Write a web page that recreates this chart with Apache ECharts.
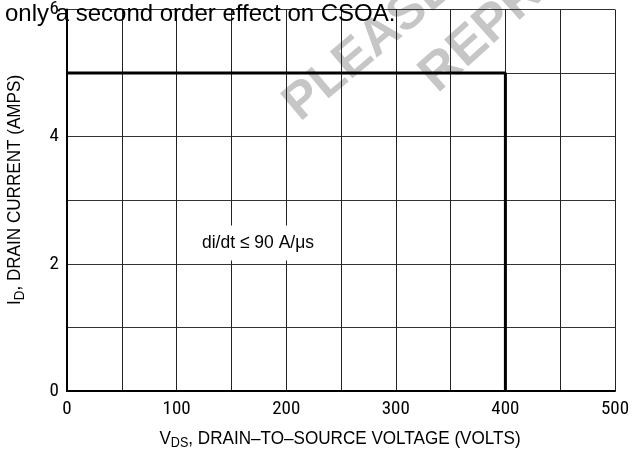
<!DOCTYPE html>
<html>
<head>
<meta charset="utf-8">
<script src="https://cdn.jsdelivr.net/npm/echarts@6/dist/echarts.min.js"></script>
<style>
html,body{margin:0;padding:0;background:#fff;}
#chart{width:633px;height:451px;}
</style>
</head>
<body>
<div id="chart"></div>
<script>
// Safe operating area boundary (V_DS, I_D)
const boundaryVolts = [0, 400, 400];
const boundaryAmps = [5, 5, 0];
// Axis tick labels
const xTickLabels = ['0', '100', '200', '300', '400', '500'];
const yTickLabels = ['0', '2', '4', '6'];
// Texts
const annotationText = 'di/dt \u2264 90 A/\u03bcs';
const headerText = 'only a second order effect on CSOA.';

const NARROW = "'Roboto Condensed', 'Liberation Sans Narrow', 'Arial Narrow', 'Liberation Sans', sans-serif";
const SANS = "'Liberation Sans', Arial, sans-serif";

const chart = echarts.init(document.getElementById('chart'), null, {renderer: 'canvas'});

const seriesData = boundaryVolts.map((v, i) => [v, boundaryAmps[i]]);

chart.setOption({
  animation: false,
  backgroundColor: '#fff',
  grid: {left: 67, right: 18, top: 8, bottom: 60, containLabel: false},
  xAxis: {
    type: 'value', min: 0, max: 500, interval: 50, z: 3,
    axisLine: {show: true, onZero: false, lineStyle: {color: '#000', width: 2}},
    axisTick: {show: false},
    splitLine: {show: true, lineStyle: {color: '#222', width: 1}},
    axisLabel: {
      margin: 9, color: '#000', fontFamily: NARROW, fontSize: 19,
      formatter: v => xTickLabels.indexOf(String(v)) >= 0 ? String(v) : ''
    }
  },
  yAxis: {
    type: 'value', min: 0, max: 6, interval: 1, z: 3,
    axisLine: {show: true, onZero: false, lineStyle: {color: '#000', width: 2}},
    axisTick: {show: false},
    splitLine: {show: true, lineStyle: {color: '#333', width: 1}},
    axisLabel: {
      margin: 8, color: '#000', fontFamily: NARROW, fontSize: 19,
      formatter: v => yTickLabels.indexOf(String(v)) >= 0 ? String(v) : ''
    }
  },
  series: [{
    type: 'line', data: seriesData, symbol: 'none', z: 5,
    lineStyle: {color: '#000', width: 3}
  }],
  graphic: [
    // watermark
    {type: 'text', x: 369, y: 46, rotation: 40 * Math.PI / 180, z: -10,
     style: {text: 'PLEASE', fill: '#c6c6c6', font: "bold 51px 'Liberation Sans', Arial, sans-serif", align: 'center', verticalAlign: 'middle'}},
    {type: 'text', x: 428, y: 83, rotation: 42 * Math.PI / 180, z: -10,
     style: {text: 'REPRODUCE', fill: '#c6c6c6', font: "bold 52px 'Liberation Sans', Arial, sans-serif", align: 'left', verticalAlign: 'middle'}},
    // header text
    {type: 'text', x: 5, y: 14, z: 100,
     style: {text: headerText, fill: '#000', font: "24px " + SANS, align: 'left', verticalAlign: 'middle'}},
    // annotation
    {type: 'text', x: 258, y: 243, z: 100, scaleX: 0.92,
     style: {text: annotationText, fill: '#000', font: "19px " + SANS, align: 'center', verticalAlign: 'middle',
             backgroundColor: '#fff', padding: [8, 5]}},
    // x axis title
    {type: 'text', x: 340, y: 439, z: 100, scaleX: 0.9,
     style: {
       text: '{a|V}{s|DS}{a|, DRAIN\u2013TO\u2013SOURCE VOLTAGE (VOLTS)}',
       align: 'center', verticalAlign: 'middle', fill: '#000',
       rich: {
         a: {fontFamily: SANS, fontSize: 19, color: '#000'},
         s: {fontFamily: SANS, fontSize: 14, color: '#000', padding: [9, 0, 0, 0]}
       }
     }},
    // y axis title
    {type: 'text', x: 15, y: 190, rotation: Math.PI / 2, z: 100, scaleX: 0.9,
     style: {
       text: '{a|I}{s|D}{a|, DRAIN CURRENT (AMPS)}',
       align: 'center', verticalAlign: 'middle', fill: '#000',
       rich: {
         a: {fontFamily: SANS, fontSize: 19, color: '#000'},
         s: {fontFamily: SANS, fontSize: 15, color: '#000', padding: [9, 0, 0, 0]}
       }
     }}
  ]
});
</script>
</body>
</html>
